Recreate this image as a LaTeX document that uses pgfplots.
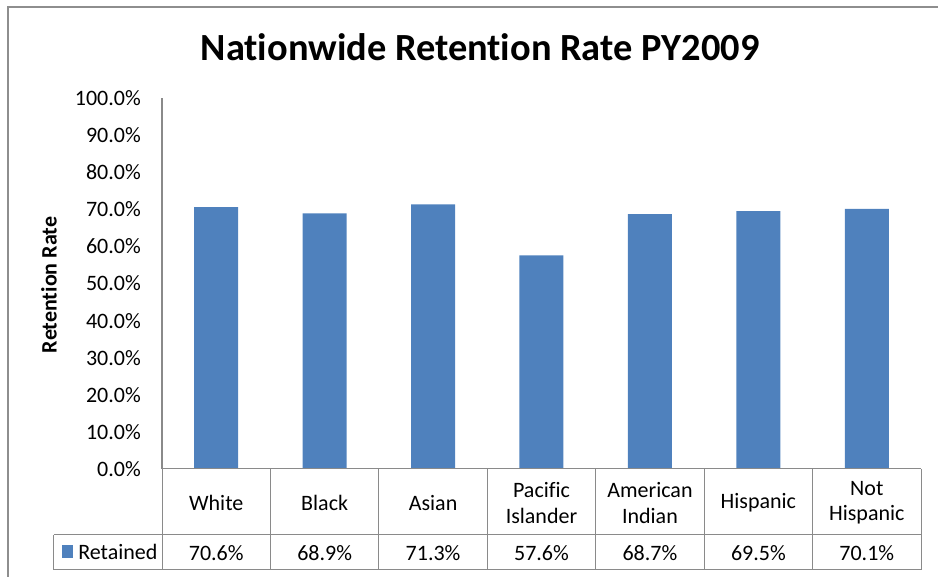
\documentclass[border=0pt]{standalone}
\usepackage{fontspec}
\setmainfont{Carlito}[Ligatures=NoCommon]
\usepackage{pgfplots}
\pgfplotsset{compat=1.18}
\definecolor{barblue}{HTML}{4F81BD}
\definecolor{framegray}{HTML}{8E8E8E}
\definecolor{tablegray}{HTML}{8A8A8A}
\newcommand{\lbl}{\fontsize{16.5}{19}\selectfont}

\begin{document}
\begin{tikzpicture}
% plot area: pixels x 162..921, y 98..469 (0.75pt per pixel)
\begin{axis}[
  scale only axis, width=569.25pt, height=278.25pt,
  xmin=-0.5, xmax=6.5, ymin=0, ymax=100,
  axis lines*=left,
  x axis line style={draw=none},
  y axis line style={tablegray, line width=0.9pt},
  xtick=\empty,
  ytick={0,10,...,100},
  major tick length=0pt,
  /pgf/number format/assume math mode=true,
  yticklabel={\pgfmathprintnumber[fixed,fixed zerofill,precision=1]{\tick}\%},
  yticklabel style={font=\lbl, inner sep=0pt, xshift=-15.75pt},
  ybar, bar width=33pt, bar shift=0pt,
  clip=false,
]
\addplot[fill=barblue, draw=none] coordinates {
  (0,70.6) (1,68.9) (2,71.3) (3,57.6) (4,68.7) (5,69.5) (6,70.1)};
\end{axis}
\begin{scope}[x=0.75pt, y=-0.75pt, xshift=-121.5pt, yshift=351.75pt]
  \path[use as bounding box] (0,0) rectangle (938,577);
  \draw[framegray, line width=1.2pt] (8,577) -- (8,7) -- (938,7);
  \node[font=\fontsize{28.8}{34}\selectfont\bfseries] at (480,47) {Nationwide Retention Rate PY2009};
  \node[font=\lbl\bfseries, rotate=90] at (49,285) {Retention Rate};
  % data table
  \draw[tablegray, line width=0.75pt] (162,469) -- (921,469);
  \draw[tablegray, line width=0.75pt] (54,535) -- (921,535);
  \draw[tablegray, line width=0.75pt] (54,570) -- (921,570);
  \draw[tablegray, line width=0.75pt] (54,535) -- (54,570);
  \foreach \k in {0,...,7} {
    \draw[tablegray, line width=0.75pt] ({162+108.43*\k},469) -- ({162+108.43*\k},570);
  }
  \fill[barblue] (62,545) rectangle (73,558);
  \node[anchor=west, font=\lbl, inner sep=0pt] at (78,552) {Retained};
  \foreach \lab [count=\i from 0] in {White,Black,Asian,{Pacific\\Islander},{American\\Indian},Hispanic,{Not\\Hispanic}} {
    \node[font=\lbl, align=center] at ({162+108.43*(\i+0.5)},503) {\lab};
  }
  \foreach \v [count=\i from 0] in {70.6,68.9,71.3,57.6,68.7,69.5,70.1} {
    \node[font=\lbl] at ({162+108.43*(\i+0.5)},553) {\v\%};
  }
\end{scope}
\end{tikzpicture}
\end{document}
